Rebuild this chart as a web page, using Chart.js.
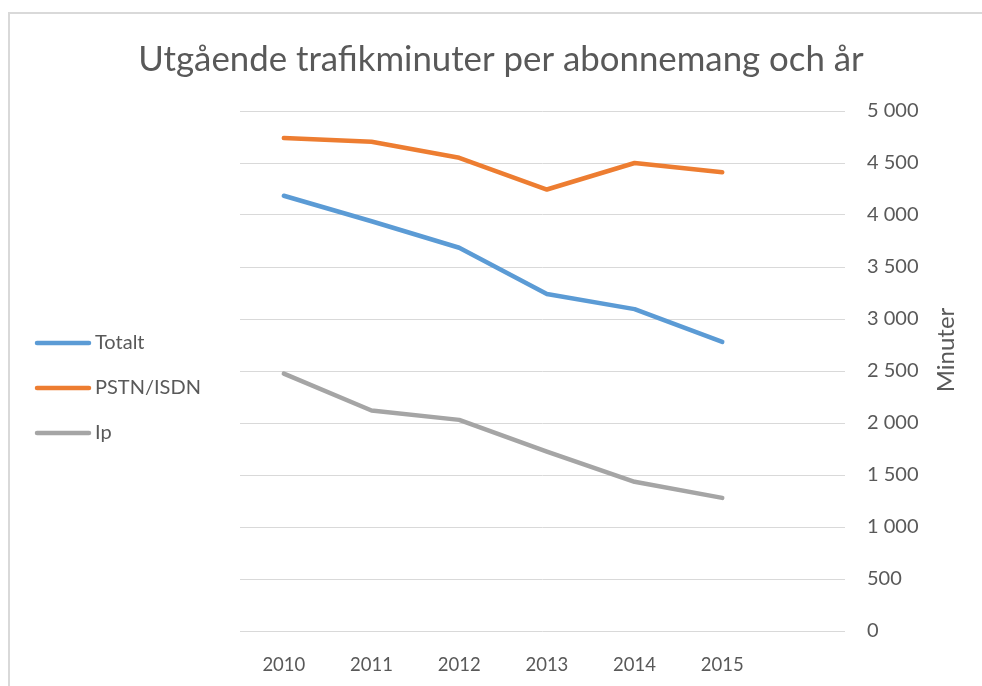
<!DOCTYPE html>
<html>
<head>
<meta charset="utf-8">
<title>Utgående trafikminuter per abonnemang och år</title>
<script src="https://cdn.jsdelivr.net/npm/chart.js@4.4.0/dist/chart.umd.min.js"></script>
<style>
  body { margin: 0; background: #fff; overflow: hidden; }
  #wrap { position: relative; width: 982px; height: 686px; overflow: hidden; }
  #frame { position: absolute; left: 8px; top: 12px; right: -10px; bottom: -10px;
           border-left: 2px solid #d9d9d9; border-top: 2px solid #d9d9d9; }
  #myChart { position: absolute; left: 0; top: 0; }
</style>
</head>
<body>
<div id="wrap">
  <div id="frame"></div>
  <canvas id="myChart" width="982" height="686"></canvas>
</div>

<script>
  // Data
  const years = [2010, 2011, 2012, 2013, 2014, 2015];
  const totalt = [4185, 3940, 3685, 3240, 3095, 2780];
  const pstnIsdn = [4740, 4705, 4550, 4245, 4500, 4410];
  const ip = [2475, 2120, 2030, 1725, 1435, 1280];

  const chartTitle = 'Utgående trafikminuter per abonnemang och år';
  const yAxisTitle = 'Minuter';

  const textColor = '#595959';
  const fontFamily = 'Lato, "Open Sans", sans-serif';

  function points(values) {
    return years.map((yr, i) => ({ x: yr, y: values[i] }));
  }

  function lineSet(label, values, color) {
    return {
      label: label,
      data: points(values),
      borderColor: color,
      backgroundColor: color,
      borderWidth: 4.5,
      borderJoinStyle: 'round',
      borderCapStyle: 'round',
      pointRadius: 0,
      tension: 0,
      fill: false
    };
  }

  // title, legend and the rotated axis title are drawn by hand
  const extras = {
    id: 'extras',
    afterDraw(chart) {
      const ctx = chart.ctx;
      ctx.save();
      ctx.fillStyle = textColor;
      ctx.textBaseline = 'middle';

      ctx.font = '34.8px ' + fontFamily;
      ctx.textAlign = 'center';
      ctx.fillText(chartTitle, 501, 60);

      const legendY = [343, 388, 433];
      ctx.font = '20px ' + fontFamily;
      ctx.textAlign = 'left';
      chart.data.datasets.forEach((ds, i) => {
        ctx.strokeStyle = ds.borderColor;
        ctx.lineWidth = 4.5;
        ctx.lineCap = 'round';
        ctx.beginPath();
        ctx.moveTo(37, legendY[i]);
        ctx.lineTo(89, legendY[i]);
        ctx.stroke();
        ctx.fillText(ds.label, 95, legendY[i]);
      });

      ctx.translate(946, 350);
      ctx.rotate(-Math.PI / 2);
      ctx.font = '24px ' + fontFamily;
      ctx.textAlign = 'center';
      ctx.fillText(yAxisTitle, 0, 0);
      ctx.restore();
    }
  };

  const config = {
    type: 'line',
    data: {
      datasets: [
        lineSet('Totalt', totalt, '#5B9BD5'),
        lineSet('PSTN/ISDN', pstnIsdn, '#ED7D31'),
        lineSet('Ip', ip, '#A5A5A5')
      ]
    },
    options: {
      responsive: false,
      animation: false,
      layout: { padding: { left: 240, top: 111, right: 0, bottom: 0 } },
      plugins: {
        legend: { display: false },
        title: { display: false },
        tooltip: { enabled: false }
      },
      scales: {
        x: {
          type: 'linear',
          min: 2009.5,
          max: 2016.4,
          grid: { display: false },
          border: { display: false },
          afterBuildTicks: (scale) => { scale.ticks = years.map(v => ({ value: v })); },
          afterFit: (scale) => { scale.height = 55; },
          ticks: {
            color: textColor,
            font: { family: fontFamily, size: 18.5 },
            padding: 15,
            maxRotation: 0,
            callback: (v) => String(v)
          }
        },
        y: {
          position: 'right',
          min: 0,
          max: 5000,
          grid: { color: '#d9d9d9', lineWidth: 1, drawTicks: false },
          border: { display: false },
          afterFit: (scale) => { scale.width = 137; },
          ticks: {
            stepSize: 500,
            color: textColor,
            font: { family: fontFamily, size: 20 },
            padding: 22,
            callback: (v) => String(v).replace(/\B(?=(\d{3})+(?!\d))/g, ' ')
          }
        }
      }
    },
    plugins: [extras]
  };

  // Create the chart
  new Chart(document.getElementById('myChart'), config);
</script>
</body>
</html>
